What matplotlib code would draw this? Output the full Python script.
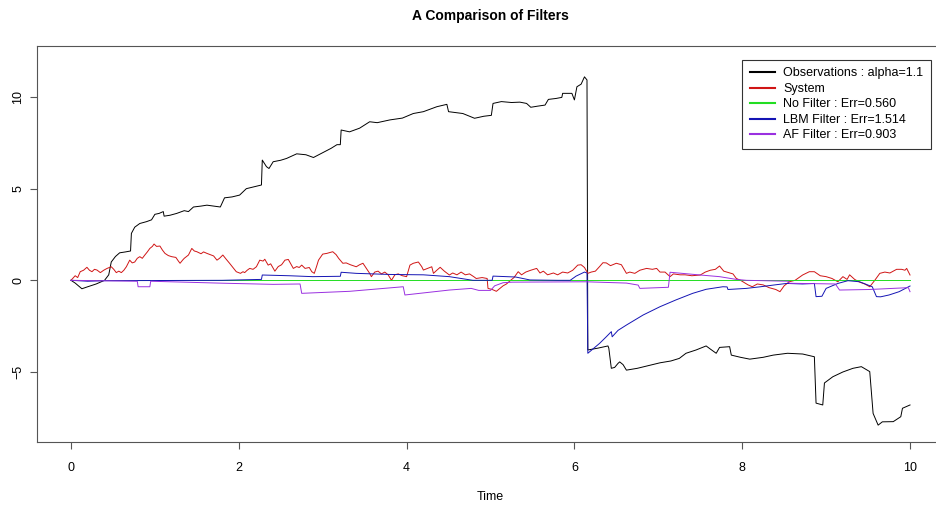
import matplotlib
matplotlib.use("Agg")
import matplotlib.pyplot as plt

# Observations (black): jump process
obs_t = [0.00, 0.05, 0.13, 0.20, 0.30, 0.40, 0.45, 0.48, 0.53, 0.58, 0.65, 0.71, 0.72, 0.76, 0.82,
         0.90, 0.96, 1.00, 1.05, 1.10, 1.11, 1.18, 1.26, 1.35, 1.40, 1.46, 1.55, 1.62, 1.70, 1.78,
         1.83, 1.92, 2.01, 2.09, 2.18, 2.27, 2.28, 2.33, 2.36, 2.41, 2.50, 2.57, 2.69, 2.80, 2.89,
         3.00, 3.10, 3.17, 3.21, 3.22, 3.32, 3.44, 3.56, 3.65, 3.80, 3.95, 4.08, 4.20, 4.36, 4.48,
         4.50, 4.67, 4.81, 4.92, 5.01, 5.03, 5.13, 5.25, 5.35, 5.43, 5.48, 5.56, 5.65, 5.69, 5.78,
         5.85, 5.86, 5.97, 6.00, 6.03, 6.08, 6.12, 6.15, 6.16, 6.28, 6.40, 6.41, 6.44, 6.48, 6.52,
         6.54, 6.58, 6.62, 6.75, 6.86, 7.02, 7.15, 7.25, 7.33, 7.45, 7.57, 7.62, 7.69, 7.73, 7.85,
         7.87, 7.98, 8.09, 8.25, 8.37, 8.54, 8.72, 8.86, 8.88, 8.96, 8.98, 9.08, 9.20, 9.32, 9.42,
         9.52, 9.56, 9.62, 9.67, 9.80, 9.89, 9.91, 10.00]
obs_y = [0.00, -0.15, -0.46, -0.35, -0.20, 0.00, 0.30, 1.00, 1.30, 1.50, 1.55, 1.60, 2.56, 2.90, 3.10,
         3.20, 3.30, 3.60, 3.65, 3.75, 3.50, 3.55, 3.65, 3.80, 3.75, 4.00, 4.05, 4.10, 4.05, 4.00,
         4.50, 4.55, 4.65, 5.00, 5.10, 5.20, 6.56, 6.20, 6.10, 6.47, 6.55, 6.65, 6.90, 6.85, 6.70,
         6.96, 7.20, 7.40, 7.40, 8.20, 8.10, 8.30, 8.65, 8.60, 8.75, 8.85, 9.10, 9.20, 9.47, 9.60,
         9.20, 9.10, 8.84, 8.95, 9.00, 9.65, 9.75, 9.70, 9.72, 9.65, 9.44, 9.50, 9.56, 9.87, 9.92,
         9.98, 10.20, 10.20, 9.84, 10.56, 10.70, 11.10, 10.93, -3.80, -3.70, -3.58, -3.70, -4.80, -4.75, -4.53,
         -4.45, -4.60, -4.90, -4.80, -4.68, -4.50, -4.40, -4.26, -3.98, -3.80, -3.58, -3.75, -3.98, -3.66, -3.62,
         -4.08, -4.20, -4.30, -4.20, -4.08, -3.98, -4.02, -4.17, -6.70, -6.80, -5.60, -5.26, -5.00, -4.80, -4.71,
         -4.98, -7.26, -7.90, -7.72, -7.71, -7.44, -6.98, -6.80]

# System (red)
sys_t = [0.00, 0.05, 0.08, 0.11, 0.15, 0.19, 0.22, 0.25, 0.28, 0.31, 0.35, 0.39, 0.43, 0.48, 0.51,
         0.54, 0.57, 0.60, 0.63, 0.66, 0.70, 0.73, 0.76, 0.79, 0.82, 0.85, 0.88, 0.91, 0.94, 0.97,
         0.99, 1.02, 1.06, 1.09, 1.12, 1.16, 1.20, 1.25, 1.28, 1.30, 1.33, 1.35, 1.40, 1.44, 1.47,
         1.50, 1.55, 1.58, 1.62, 1.66, 1.70, 1.74, 1.77, 1.81, 1.85, 1.89, 1.93, 1.97, 2.02, 2.05,
         2.07, 2.10, 2.13, 2.17, 2.21, 2.25, 2.29, 2.31, 2.35, 2.38, 2.43, 2.47, 2.51, 2.55, 2.59,
         2.62, 2.65, 2.69, 2.72, 2.75, 2.79, 2.84, 2.87, 2.90, 2.93, 2.95, 3.00, 3.05, 3.09, 3.12,
         3.16, 3.19, 3.24, 3.28, 3.33, 3.40, 3.44, 3.48, 3.52, 3.56, 3.58, 3.62, 3.66, 3.70, 3.74,
         3.78, 3.82, 3.86, 3.90, 3.95, 4.00, 4.04, 4.08, 4.14, 4.18, 4.20, 4.25, 4.30, 4.32, 4.36,
         4.40, 4.45, 4.51, 4.55, 4.60, 4.65, 4.70, 4.75, 4.80, 4.83, 4.90, 4.96, 4.97, 5.02, 5.07,
         5.11, 5.15, 5.19, 5.24, 5.28, 5.33, 5.37, 5.42, 5.48, 5.55, 5.59, 5.63, 5.68, 5.75, 5.80,
         5.86, 5.92, 5.98, 6.04, 6.08, 6.12, 6.16, 6.20, 6.25, 6.30, 6.34, 6.38, 6.43, 6.50, 6.56,
         6.62, 6.66, 6.72, 6.78, 6.86, 6.93, 6.98, 7.02, 7.08, 7.14, 7.18, 7.26, 7.32, 7.40, 7.50,
         7.56, 7.62, 7.68, 7.73, 7.78, 7.84, 7.89, 7.93, 7.98, 8.07, 8.12, 8.18, 8.25, 8.32, 8.40,
         8.45, 8.50, 8.56, 8.63, 8.72, 8.80, 8.86, 8.93, 9.00, 9.07, 9.14, 9.20, 9.25, 9.28, 9.34,
         9.40, 9.46, 9.52, 9.58, 9.64, 9.70, 9.76, 9.84, 9.90, 9.94, 9.96, 10.00]
sys_y = [0.00, 0.25, 0.15, 0.47, 0.55, 0.71, 0.55, 0.47, 0.60, 0.56, 0.42, 0.55, 0.65, 0.74, 0.60,
         0.42, 0.50, 0.42, 0.55, 0.74, 1.10, 0.95, 1.00, 1.20, 1.29, 1.20, 1.38, 1.55, 1.74, 1.85,
         1.98, 1.85, 1.87, 1.65, 1.47, 1.35, 1.29, 1.25, 1.05, 0.93, 1.10, 1.20, 1.38, 1.74, 1.60,
         1.56, 1.45, 1.55, 1.47, 1.40, 1.33, 1.10, 1.20, 1.38, 1.15, 0.93, 0.70, 0.47, 0.38, 0.47,
         0.42, 0.55, 0.65, 0.60, 0.74, 1.10, 1.05, 1.15, 0.83, 0.90, 0.50, 0.75, 0.85, 1.10, 1.14,
         0.90, 0.65, 0.75, 0.70, 0.83, 0.65, 0.70, 0.47, 0.38, 0.80, 1.10, 1.43, 1.47, 1.52, 1.56,
         1.40, 1.20, 0.93, 0.95, 0.85, 0.74, 0.85, 0.93, 0.65, 0.38, 0.20, 0.45, 0.50, 0.35, 0.45,
         0.30, 0.00, 0.30, 0.35, 0.25, 0.20, 0.83, 0.93, 1.00, 0.75, 0.56, 0.65, 0.74, 0.38, 0.55,
         0.71, 0.50, 0.29, 0.40, 0.30, 0.45, 0.30, 0.35, 0.20, 0.10, 0.15, 0.10, -0.44, -0.50, -0.60,
         -0.45, -0.30, -0.20, 0.00, 0.15, 0.47, 0.30, 0.45, 0.55, 0.65, 0.40, 0.50, 0.30, 0.40, 0.30,
         0.45, 0.40, 0.55, 0.83, 0.85, 0.70, 0.38, 0.45, 0.50, 0.75, 0.96, 0.95, 0.80, 0.93, 0.85,
         0.38, 0.45, 0.38, 0.55, 0.65, 0.60, 0.65, 0.45, 0.45, 0.20, 0.35, 0.30, 0.30, 0.25, 0.29,
         0.45, 0.55, 0.60, 0.78, 0.50, 0.42, 0.35, 0.10, 0.00, -0.25, -0.35, -0.20, -0.25, -0.40, -0.50,
         -0.62, -0.30, -0.08, 0.00, 0.29, 0.47, 0.47, 0.25, 0.20, 0.10, -0.08, 0.20, 0.05, 0.30, 0.05,
         -0.10, -0.20, -0.35, 0.00, 0.38, 0.45, 0.40, 0.60, 0.60, 0.55, 0.65, 0.29]

# No filter (green)
nof_t = [0.0, 10.0]
nof_y = [0.0, 0.0]

# LBM filter (blue)
lbm_t = [0.00, 0.20, 0.40, 1.80, 2.27, 2.28, 2.60, 2.88, 3.21, 3.22, 3.40, 3.80, 4.20, 4.51, 4.79,
         5.02, 5.03, 5.30, 5.47, 5.80, 5.95, 6.02, 6.12, 6.15, 6.16, 6.30, 6.38, 6.44, 6.45, 6.52,
         6.62, 6.82, 7.02, 7.21, 7.41, 7.57, 7.77, 7.82, 7.83, 8.05, 8.22, 8.37, 8.53, 8.72, 8.86,
         8.88, 8.95, 9.00, 9.14, 9.26, 9.40, 9.55, 9.60, 9.65, 9.75, 9.87, 10.00]
lbm_y = [0.00, -0.05, -0.02, 0.00, 0.05, 0.29, 0.25, 0.20, 0.22, 0.44, 0.38, 0.32, 0.30, 0.20, 0.00,
         0.00, 0.23, 0.18, 0.02, 0.00, 0.00, 0.23, 0.45, 0.40, -3.98, -3.44, -3.08, -2.80, -3.08, -2.73,
         -2.44, -1.89, -1.44, -1.07, -0.71, -0.49, -0.35, -0.36, -0.50, -0.44, -0.35, -0.26, -0.17, -0.20, -0.17,
         -0.89, -0.87, -0.44, -0.17, -0.02, -0.08, -0.35, -0.89, -0.90, -0.80, -0.62, -0.31]

# AF filter (purple)
af_t = [0.00, 0.79, 0.80, 0.94, 0.95, 1.83, 2.41, 2.73, 2.75, 3.32, 3.96, 3.98, 4.51, 4.77, 4.86,
        5.00, 5.05, 5.15, 5.26, 6.14, 6.62, 6.76, 6.78, 7.12, 7.14, 7.50, 7.73, 7.93, 8.05, 8.55,
        8.56, 9.11, 9.16, 9.52, 9.98, 10.00]
af_y = [0.00, -0.05, -0.35, -0.35, -0.05, -0.16, -0.22, -0.20, -0.71, -0.60, -0.35, -0.80, -0.53, -0.44, -0.55,
        -0.55, -0.30, -0.13, -0.10, -0.08, -0.15, -0.26, -0.44, -0.38, 0.44, 0.29, 0.20, 0.05, 0.00, -0.05,
        -0.16, -0.20, -0.53, -0.50, -0.40, -0.62]

labels = ["Observations : alpha=1.1", "System", "No Filter : Err=0.560",
          "LBM Filter : Err=1.514", "AF Filter : Err=0.903"]
colors = ["black", "#d01515", "#22dd22", "#1414b4", "#9a30e0"]

W, H = 936, 507
plt.rcParams['font.family'] = ['Liberation Sans', 'DejaVu Sans']

fig = plt.figure(figsize=(W / 100, H / 100), dpi=100)
# axes box in pixels: left 37, right 944 (cropped off), top 45.5, bottom 442
ax = fig.add_axes([37 / W, 1 - 442 / H, (944 - 37) / W, (442 - 45.5) / H])
ax.set_xlim(-0.405, 10.405)
ax.set_ylim(-8.82, 12.81)

lw = 0.7
ax.plot(obs_t, obs_y, color=colors[0], lw=lw, label=labels[0])
ax.plot(sys_t, sys_y, color=colors[1], lw=lw, label=labels[1])
ax.plot(nof_t, nof_y, color=colors[2], lw=lw, label=labels[2])
ax.plot(lbm_t, lbm_y, color=colors[3], lw=lw, label=labels[3])
ax.plot(af_t, af_y, color=colors[4], lw=lw, label=labels[4])

ax.set_xticks([0, 2, 4, 6, 8, 10])
ax.set_yticks([-5, 0, 5, 10])
ax.tick_params(direction='out', length=5, width=0.8, color='#555555', labelsize=9)
ax.tick_params(axis='x', pad=9.5)
ax.tick_params(axis='y', pad=4)
for lab in ax.get_yticklabels():
    lab.set_rotation(90)
    lab.set_va('center')
for sp in ax.spines.values():
    sp.set_color('#555555')
    sp.set_linewidth(0.8)

fig.text(490.5 / W, 1 - 16 / H, "A Comparison of Filters", ha='center', va='center',
         fontsize=10, fontweight='bold')
fig.text(490.5 / W, 1 - 497 / H, "Time", ha='center', va='center', fontsize=9)

leg = ax.legend(loc='upper right', bbox_to_anchor=(931 / W, 1 - 60 / H),
                bbox_transform=fig.transFigure, fontsize=9, frameon=True, fancybox=False,
                handlelength=2.0, handletextpad=0.7, labelspacing=0.28, borderpad=0.6,
                borderaxespad=0)
leg.get_frame().set_edgecolor('black')
leg.get_frame().set_linewidth(0.8)
for line in leg.get_lines():
    line.set_linewidth(1.5)

fig.savefig("out.png", dpi=100)
